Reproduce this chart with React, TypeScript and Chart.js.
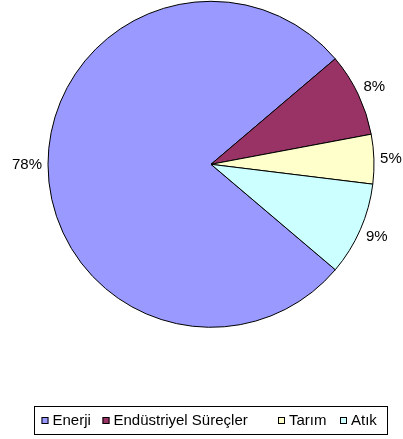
import React, { useEffect, useRef } from "react";
import { Chart, registerables } from "chart.js";

Chart.register(...registerables);

const categories = ["Enerji", "Endüstriyel Süreçler", "Tarım", "Atık"];
const shares = [77.6, 8.25, 4.9, 9.25];
const pctLabels = ["78%", "8%", "5%", "9%"];
const colors = ["#9999FF", "#993366", "#FFFFCC", "#CCFFFF"];
const legendMarkerX = [41.5, 102.5, 278, 340];

const FONT = "15px 'Liberation Sans', Arial, sans-serif";

const labelPlugin = {
  id: "outLabels",
  afterDatasetsDraw(chart: any) {
    const ctx = chart.ctx;
    const meta = chart.getDatasetMeta(0);
    ctx.save();
    ctx.font = FONT;
    ctx.fillStyle = "#000";
    ctx.textAlign = "center";
    ctx.textBaseline = "middle";
    meta.data.forEach((arc: any, i: number) => {
      const { x, y, startAngle, endAngle, outerRadius } = arc.getProps(
        ["x", "y", "startAngle", "endAngle", "outerRadius"],
        true
      );
      const mid = (startAngle + endAngle) / 2;
      const c = Math.cos(mid);
      const s = Math.sin(mid);
      const w = ctx.measureText(pctLabels[i]).width;
      const d = outerRadius + 6 + Math.abs(c) * w / 2 + Math.abs(s) * 5;
      ctx.fillText(pctLabels[i], x + c * d, y + s * d);
    });
    ctx.restore();
  },
  afterDraw(chart: any) {
    const ctx = chart.ctx;
    ctx.save();
    ctx.strokeStyle = "#000";
    ctx.lineWidth = 1;
    ctx.strokeRect(34.5, 406.5, 353, 28);
    ctx.font = FONT;
    ctx.textBaseline = "middle";
    ctx.textAlign = "left";
    categories.forEach((name, i) => {
      const mx = legendMarkerX[i];
      ctx.fillStyle = colors[i];
      ctx.fillRect(mx, 417, 7, 7);
      ctx.strokeStyle = "#000";
      ctx.strokeRect(mx + 0.5, 417.5, 6, 6);
      ctx.fillStyle = "#000";
      ctx.fillText(name, mx + 11, 420.5);
    });
    ctx.restore();
  },
};

export default function App() {
  const ref = useRef<HTMLCanvasElement>(null);
  useEffect(() => {
    if (!ref.current) return;
    const chart = new Chart(ref.current, {
      type: "pie",
      data: {
        labels: categories,
        datasets: [
          {
            data: shares,
            backgroundColor: colors,
            borderColor: "#000",
            borderWidth: 1,
          },
        ],
      },
      options: {
        responsive: false,
        animation: false,
        rotation: 130.3,
        radius: 163,
        layout: { padding: { left: 30, right: 11, top: 0, bottom: 110.4 } },
        plugins: {
          legend: { display: false },
          tooltip: { enabled: false },
        },
      },
      plugins: [labelPlugin],
    });
    return () => chart.destroy();
  }, []);
  return (
    <div style={{ position: "absolute", left: 0, top: 0, width: 403, height: 439, background: "#fff" }}>
      <canvas ref={ref} width={403} height={439} />
    </div>
  );
}
